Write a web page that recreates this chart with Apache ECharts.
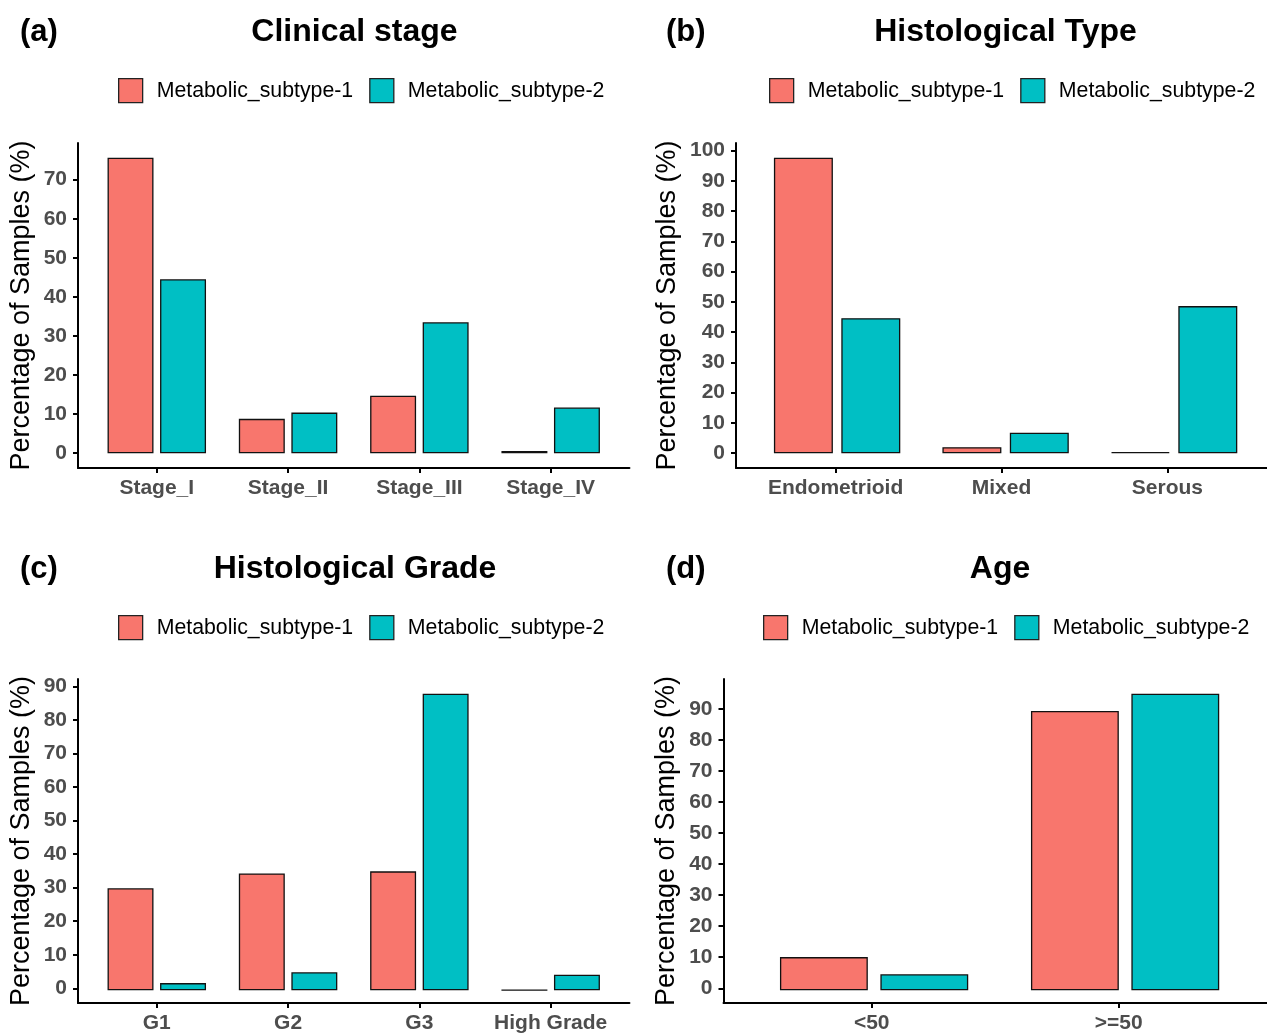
<!DOCTYPE html>
<html>
<head>
<meta charset="utf-8">
<script src="https://cdn.jsdelivr.net/npm/echarts@6/dist/echarts.min.js"></script>
<style>
  html, body { margin: 0; padding: 0; background: #ffffff; }
  #chart { width: 1267px; height: 1034px; }
</style>
</head>
<body>
<div id="chart"></div>
<script>
// Percentage of samples per clinical feature, split by metabolic subtype
const seriesNames = ['Metabolic_subtype-1', 'Metabolic_subtype-2'];

const stageCats = ['Stage_I', 'Stage_II', 'Stage_III', 'Stage_IV'];
const stageSub1 = [75.6, 8.8, 14.7, 0.6];
const stageSub2 = [44.5, 10.4, 33.5, 11.7];
const stageTicks = [0, 10, 20, 30, 40, 50, 60, 70];

const typeCats = ['Endometrioid', 'Mixed', 'Serous'];
const typeSub1 = [97.6, 2.0, 0.4];
const typeSub2 = [44.6, 6.8, 48.6];
const typeTicks = [0, 10, 20, 30, 40, 50, 60, 70, 80, 90, 100];

const gradeCats = ['G1', 'G2', 'G3', 'High Grade'];
const gradeSub1 = [30.2, 34.6, 35.2, 0];
const gradeSub2 = [2.1, 5.3, 87.8, 4.6];
const gradeTicks = [0, 10, 20, 30, 40, 50, 60, 70, 80, 90];

const ageCats = ['<50', '>=50'];
const ageSub1 = [10.6, 89.4];
const ageSub2 = [5.1, 94.9];
const ageTicks = [0, 10, 20, 30, 40, 50, 60, 70, 80, 90];

const FONT = "'Liberation Sans', Arial, Helvetica, sans-serif";
const RED = '#F8766D';
const TEAL = '#00BFC4';
const AXIS_TEXT = '#4D4D4D';

// Layout of the four panels (pixels)
const panels = [
  { tag: '(a)', title: 'Clinical stage', cats: stageCats, s1: stageSub1, s2: stageSub2, ticks: stageTicks,
    left: 78, top: 143, height: 325, unit: 131.3, tagX: 20, titleX: 354.5, headY: 32,
    legendX: 118, legendY: 78, nameGap: 43 },
  { tag: '(b)', title: 'Histological Type', cats: typeCats, s1: typeSub1, s2: typeSub2, ticks: typeTicks,
    left: 736, top: 143, height: 325, unit: 168.5, tagX: 666, titleX: 1005.5, headY: 32,
    legendX: 769, legendY: 78, nameGap: 55 },
  { tag: '(c)', title: 'Histological Grade', cats: gradeCats, s1: gradeSub1, s2: gradeSub2, ticks: gradeTicks,
    left: 78, top: 679, height: 326, unit: 131.3, tagX: 20, titleX: 355, headY: 569,
    legendX: 118, legendY: 615, nameGap: 43 },
  { tag: '(d)', title: 'Age', cats: ageCats, s1: ageSub1, s2: ageSub2, ticks: ageTicks,
    left: 723.5, top: 679, height: 326, unit: 251, tagX: 666, titleX: 1000, headY: 569,
    legendX: 763, legendY: 615, nameGap: 43 }
];

const grid = [], xAxis = [], yAxis = [], series = [], legend = [], graphic = [];

panels.forEach((p, i) => {
  const n = p.cats.length;
  const dataMax = Math.max(...p.s1, ...p.s2);
  const yMin = -dataMax * 0.05;
  const yMax = dataMax * 1.05;
  const outer = 2 * i, inner = 2 * i + 1;

  // outer grid: visible axes, discrete axis padded by 0.6 units on each side
  grid.push({ left: p.left, top: p.top, width: p.unit * (n + 0.2), height: p.height });
  // inner grid: bands for the bars
  grid.push({ left: p.left + p.unit * 0.1, top: p.top, width: p.unit * n, height: p.height });

  const idx = p.cats.map((c, k) => k + 1);
  xAxis.push({
    gridIndex: outer, type: 'value', min: 0.4, max: n + 0.6, position: 'bottom',
    splitLine: { show: false },
    axisLine: { show: true, onZero: false, lineStyle: { color: '#000', width: 2 } },
    axisTick: { show: true, length: 5, customValues: idx, lineStyle: { color: '#000', width: 2 } },
    axisLabel: {
      show: true, customValues: idx, margin: 10,
      formatter: v => p.cats[Math.round(v) - 1],
      color: AXIS_TEXT, fontFamily: FONT, fontWeight: 'bold', fontSize: 21
    }
  });
  xAxis.push({
    gridIndex: inner, type: 'category', data: p.cats,
    axisLine: { show: false }, axisTick: { show: false }, axisLabel: { show: false }, splitLine: { show: false }
  });

  yAxis.push({
    gridIndex: outer, type: 'value', min: yMin, max: yMax, position: 'left',
    name: 'Percentage of Samples (%)', nameLocation: 'middle', nameRotate: 90, nameGap: p.nameGap,
    nameTextStyle: { color: '#000', fontFamily: FONT, fontSize: 27 },
    splitLine: { show: false },
    axisLine: { show: true, onZero: false, lineStyle: { color: '#000', width: 2 } },
    axisTick: { show: true, length: 5, customValues: p.ticks, lineStyle: { color: '#000', width: 2 } },
    axisLabel: {
      show: true, customValues: p.ticks, margin: 11,
      color: AXIS_TEXT, fontFamily: FONT, fontWeight: 'bold', fontSize: 21
    }
  });
  yAxis.push({
    gridIndex: inner, type: 'value', min: yMin, max: yMax,
    axisLine: { show: false }, axisTick: { show: false }, axisLabel: { show: false }, splitLine: { show: false }
  });

  [p.s1, p.s2].forEach((vals, s) => {
    series.push({
      name: seriesNames[s], type: 'bar',
      xAxisIndex: inner, yAxisIndex: inner,
      data: vals,
      barWidth: '35%', barGap: '14.3%',
      itemStyle: { color: s === 0 ? RED : TEAL, borderColor: '#111', borderWidth: 1.3 },
      emphasis: { disabled: true },
      animation: false
    });
  });

  legend.push({
    data: seriesNames, left: p.legendX, top: p.legendY, padding: 0,
    orient: 'horizontal', itemWidth: 24, itemHeight: 24, itemGap: 16,
    icon: 'rect', selectedMode: false,
    itemStyle: { borderColor: '#222', borderWidth: 1.3 },
    textStyle: { color: '#000', fontFamily: FONT, fontSize: 21.3, padding: [0, 0, 0, 9] }
  });

  graphic.push({
    type: 'text', x: p.tagX, y: p.headY,
    style: { text: p.tag, font: `bold 31px ${FONT}`, fill: '#000', textAlign: 'left', textVerticalAlign: 'middle' }
  });
  graphic.push({
    type: 'text', x: p.titleX, y: p.headY,
    style: { text: p.title, font: `bold 32px ${FONT}`, fill: '#000', textAlign: 'center', textVerticalAlign: 'middle' }
  });
});

const chart = echarts.init(document.getElementById('chart'), null, { renderer: 'canvas' });
chart.setOption({
  backgroundColor: '#ffffff',
  animation: false,
  grid, xAxis, yAxis, series, legend, graphic
});
</script>
</body>
</html>
